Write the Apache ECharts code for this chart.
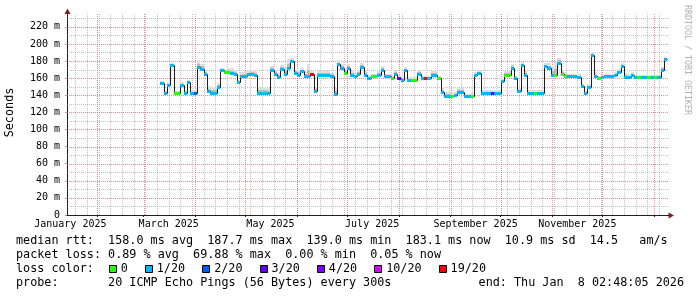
<!DOCTYPE html>
<html><head><meta charset="utf-8">
<script src="https://cdn.jsdelivr.net/npm/echarts@6/dist/echarts.min.js"></script>
<style>html,body{margin:0;padding:0;background:#fff}#c{width:697px;height:297px}</style>
</head><body><div id="c"></div>
<script>
// ---- data (days since 2025-01-01, values in ms) ----
const startDay = 70;   // 2025-03-12
const stepDays = 2;
const medianMs = [
 154,143,152,175,142.5,142.5,152,143,155,143,
 143,173,171,165,145,143,143,150,169,167,
 167,166,165,155,162,163,164.5,164.5,164,143,
 143,143,143,170,165,161.5,171,165,172,180,
 166,164,168,163,163,165,145,164,164,164,
 164,163,142,176,172,166,172,164,162,165,
 173,164,160,162,162,164,170,162,162,160,
 165,160,158,169,158,158,158,165,160,160,
 160,164,164,160,144,139,139,139,140,144,
 144,139,139,139.5,164,166,143,143,143,143,
 143,143,157,164,164,172,160,145,175,164,
 143,143,143,143,143,174,172,164,164,178,
 165,163,162,162,162,161,151,142.5,150,187,
 162,160,161,162,162,162,164,167,174,161.5,
 161.5,164,161,161,161,161,161,161,161,161,
 170,182
];
// loss bucket index into lossNames / lossColors
const lossBucket = [
 1,1,1,1,0,0,1,1,1,1,
 2,1,1,1,1,1,1,1,1,0,
 0,1,1,1,1,1,1,1,1,1,
 1,1,1,1,1,1,1,1,1,1,
 1,1,1,1,1,6,1,1,1,1,
 1,1,1,1,1,0,1,1,1,1,
 1,1,1,0,0,1,1,1,1,0,
 1,3,1,1,1,0,0,1,1,6,
 1,1,1,0,1,1,1,0,1,1,
 1,1,1,0,1,1,1,1,1,3,
 1,1,1,0,0,1,1,1,1,1,
 1,1,0,1,1,1,1,1,0,1,
 0,0,1,1,1,1,1,1,1,1,
 1,0,1,1,1,1,1,1,1,1,
 1,1,1,0,1,1,0,1,0,1,
 1,1
];
// spread of the smoke above the median (ms)
const smokeUpMs = [
 3,3,3,3,3,3,3,3,3,3,
 3,8,6,5,6,7,6,4,3,4,
 5,6,5,3,5,5,4,5,4,6,
 7,6,5,4,4,4,4,8,10,4,
 4,6,4,4,14,3,4,4,4,5,
 4,3,6,5,4,5,4,4,4,4,
 5,4,4,3,3,4,4,3,3,3,
 4,4,3,4,3,3,3,4,3,3,
 3,4,4,3,4,5,5,4,4,4,
 4,3,3,3,3,3,3,3,3,3,
 3,3,3,4,4,5,3,3,4,4,
 3,3,3,3,3,4,6,10,14,6,
 4,4,3,3,3,4,3,3,3,3,
 5,3,3,3,3,3,3,4,4,4,
 3,3,3,3,3,3,3,3,3,3,
 3,3
];
const lossNames  = ['0','1/20','2/20','3/20','4/20','10/20','19/20'];
const lossColors = ['#26ff00','#00b8ff','#0059ff','#5e00ff','#7e00ff','#dd00ff','#ff0000'];
const yTickValues = [0,20,40,60,80,100,120,140,160,180,200,220];
const xLabelMonths = [[2025,0],[2025,2],[2025,4],[2025,6],[2025,8],[2025,10]];
const xLabelTexts = ['January 2025','March 2025','May 2025','July 2025','September 2025','November 2025'];
const legendRows = [
 'median rtt:  158.0 ms avg  187.7 ms max  139.0 ms min  183.1 ms now  10.9 ms sd  14.5   am/s',
 'packet loss: 0.89 % avg  69.88 % max  0.00 % min  0.05 % now',
 'loss color:',
 'probe:       20 ICMP Echo Pings (56 Bytes) every 300s'
];
const endText = 'end: Thu Jan  8 02:48:05 2026';
const watermark = 'RRDTOOL / TOBI OETIKER';
const yTitle = 'Seconds';

// ---- helpers ----
const dayOf = (y, m, d = 1) => (Date.UTC(y, m, d) - Date.UTC(2025, 0, 1)) / 864e5;
const xMin = dayOf(2025, 0, 14), xMax = dayOf(2026, 0, 10);
const yMax = 235;
const half = stepDays / 2;
const days = medianMs.map((_, i) => startDay + i * stepDays);
const lineData = days.map((d, i) => [d, medianMs[i], i + 1 < medianMs.length ? medianMs[i + 1] : medianMs[i]]);
const bandData = days.map((d, i) => [d, medianMs[i], lossBucket[i]]);
const smokeData = days.map((d, i) => [d, medianMs[i], smokeUpMs[i]]);

const monthStarts = [];
for (let m = 0; m <= 12; m++) { const d = dayOf(2025, m); if (d > xMin && d < xMax) monthStarts.push(d); }
const sundays = [];
for (let d = dayOf(2025, 0, 5); d < xMax; d += 7) if (d > xMin) sundays.push(d);
const labelDays = xLabelMonths.map(([y, m]) => dayOf(y, m) + 15);

const MONO = "'DejaVu Sans Mono', monospace";
const GRID = 'rgba(143,143,143,0.55)';
const MGRID = 'rgba(222,79,79,0.65)';
const minorGrid = [], majorGrid = [];
sundays.forEach(d => minorGrid.push([d, 1]));
for (let v = 10; v < yMax; v += 20) minorGrid.push([v, 0]);
monthStarts.forEach(d => majorGrid.push([d, 1]));
yTickValues.filter(v => v > 0).forEach(v => majorGrid.push([v, 0]));

const snap = p => Math.round(p) + 0.5;
const gridRenderer = color => (params, api) => {
  const cs = params.coordSys;
  const v = api.value(0), vert = api.value(1);
  const style = {stroke: color, lineWidth: 1, lineDash: [1, 1], fill: null};
  if (vert) {
    const x = snap(api.coord([v, 0])[0]);
    return {type: 'line', shape: {x1: x, y1: cs.y, x2: x, y2: cs.y + cs.height}, style};
  }
  const y = snap(api.coord([xMin, v])[1]);
  return {type: 'line', shape: {x1: cs.x, y1: y, x2: cs.x + cs.width, y2: y}, style};
};

// ---- legend graphics ----
const CW = 7.085, LX = 16, rowY = [241, 255, 269, 283];
const FS = 11.77;
const graphics = [];
legendRows.forEach((t, i) => graphics.push({type: 'text', x: LX, y: rowY[i], silent: true,
  style: {text: t, font: `${FS}px ${MONO}`, fill: '#000', align: 'left', verticalAlign: 'middle'}}));
graphics.push({type: 'text', x: 684, y: rowY[3], silent: true,
  style: {text: endText, font: `${FS}px ${MONO}`, fill: '#000', align: 'right', verticalAlign: 'middle'}});
let bx = 109;
lossNames.forEach((n, i) => {
  graphics.push({type: 'rect', silent: true, shape: {x: Math.round(bx) + 0.5, y: 265.5, width: 7, height: 7},
    style: {fill: lossColors[i], stroke: '#000', lineWidth: 1}});
  const tx = bx + 11.7;
  graphics.push({type: 'text', x: tx, y: rowY[2], silent: true,
    style: {text: n, font: `${FS}px ${MONO}`, fill: '#000', align: 'left', verticalAlign: 'middle'}});
  bx = tx + n.length * CW + 17.3;
});
graphics.push({type: 'text', x: 10, y: 112.5, rotation: Math.PI / 2, silent: true,
  style: {text: yTitle, font: `${FS}px ${MONO}`, fill: '#000', align: 'center', verticalAlign: 'middle'}});
graphics.push({type: 'text', x: 687, y: 60, rotation: -Math.PI / 2, silent: true,
  style: {text: watermark, font: `8.3px ${MONO}`, fill: '#b0b0b0', align: 'center', verticalAlign: 'middle'}});
graphics.push({type: 'polygon', silent: true, shape: {points: [[67.5, 8.5], [64.5, 14], [70.5, 14]]}, style: {fill: '#7f1f1f'}});
graphics.push({type: 'polygon', silent: true, shape: {points: [[674, 215.5], [668.5, 212.5], [668.5, 218.5]]}, style: {fill: '#7f1f1f'}});

const chart = echarts.init(document.getElementById('c'), null, {renderer: 'canvas'});
chart.setOption({
  animation: false,
  backgroundColor: '#fff',
  grid: {left: 67, top: 14, width: 602, height: 201, containLabel: false},
  xAxis: {
    type: 'value', min: xMin, max: xMax,
    axisLine: {show: true, onZero: false, lineStyle: {color: '#1f1f1f', width: 1}},
    axisTick: {show: true, customValues: monthStarts, length: 2, inside: false, lineStyle: {color: '#1f1f1f'}},
    axisLabel: {customValues: labelDays, formatter: v => xLabelTexts[labelDays.indexOf(v)] || '',
      fontFamily: MONO, fontSize: 10, color: '#000', margin: 4},
    splitLine: {show: false}
  },
  yAxis: {
    type: 'value', min: 0, max: yMax,
    axisLine: {show: true, lineStyle: {color: '#1f1f1f', width: 1}},
    axisTick: {show: true, customValues: yTickValues, length: 2, lineStyle: {color: MGRID}},
    axisLabel: {customValues: yTickValues, formatter: v => v === 0 ? '0' : v + ' m',
      fontFamily: MONO, fontSize: 10, color: '#000', margin: 7},
    splitLine: {show: false}
  },
  graphic: graphics,
  series: [
    {type: 'custom', name: 'minorGrid', z: 1, silent: true, data: minorGrid, clip: false, renderItem: gridRenderer(GRID)},
    {type: 'custom', name: 'majorGrid', z: 2, silent: true, data: majorGrid, clip: false, renderItem: gridRenderer(MGRID)},
    {type: 'custom', z: 9, silent: true, data: smokeData, clip: true,
      renderItem: (params, api) => {
        const d = api.value(0), v = api.value(1), up = api.value(2);
        const a = api.coord([d - half, v - 1]), b = api.coord([d + half, v + up]);
        const c = api.coord([d + half, v + up * 0.45]);
        const x0 = Math.round(a[0]), x1 = Math.round(b[0]);
        return {type: 'group', children: [
          {type: 'rect', shape: {x: x0, y: Math.round(b[1]), width: x1 - x0, height: Math.round(a[1]) - Math.round(b[1])}, style: {fill: '#dedede'}},
          {type: 'rect', shape: {x: x0, y: Math.round(c[1]), width: x1 - x0, height: Math.round(a[1]) - Math.round(c[1])}, style: {fill: '#bababa'}}
        ]};
      }},
    {type: 'custom', z: 10, silent: true, data: lineData, clip: true,
      renderItem: (params, api) => {
        const d = api.value(0), v = api.value(1), vn = api.value(2);
        const a = api.coord([d - half, v]), b = api.coord([d + half, v]), c = api.coord([d + half, vn]);
        const y = snap(a[1]), yn = snap(c[1]), xb = snap(b[0]);
        return {type: 'polyline', shape: {points: [[Math.round(a[0]), y], [xb, y], [xb, yn]]},
          style: {stroke: '#202020', lineWidth: 1, fill: null}};
      }},
    {type: 'custom', z: 11, silent: true, data: bandData, clip: true,
      renderItem: (params, api) => {
        const d = api.value(0), v = api.value(1), k = api.value(2);
        const a = api.coord([d - half, v]), b = api.coord([d + half, v]);
        const x0 = Math.round(a[0]), x1 = Math.round(b[0]);
        return {type: 'rect', shape: {x: x0, y: Math.round(a[1]) - 1, width: x1 - x0, height: 3}, style: {fill: lossColors[k]}};
      }}
  ]
});
</script></body></html>
